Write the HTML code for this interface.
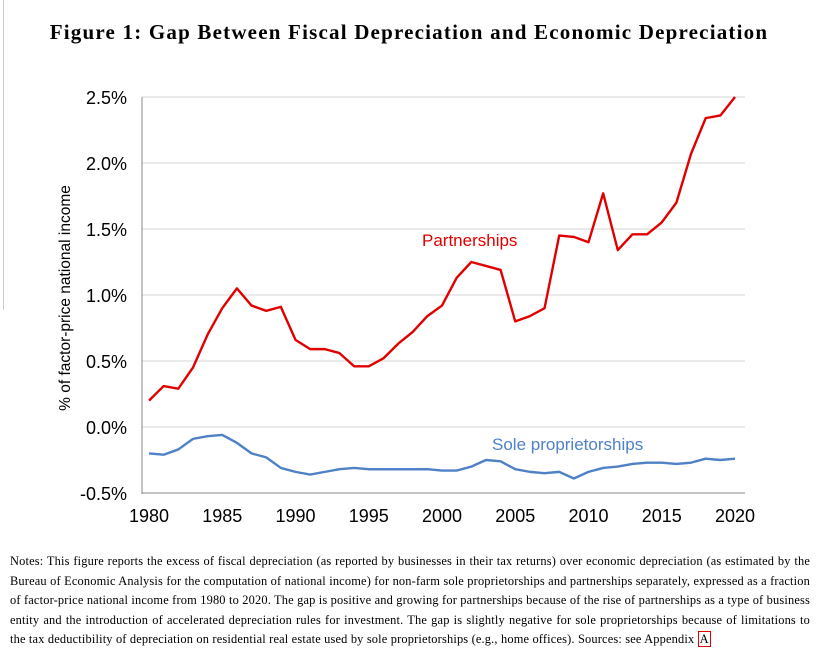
<!DOCTYPE html>
<html><head><meta charset="utf-8"><style>
body{margin:0;background:#fff;width:833px;height:655px;overflow:hidden;position:relative;font-family:"Liberation Sans",sans-serif}
#title{position:absolute;top:20px;left:0;width:818px;text-align:center;font-family:"Liberation Serif",serif;font-size:21px;font-weight:bold;letter-spacing:1.2px}
#notes{position:absolute;left:10px;top:552px;width:800px;font-family:"Liberation Serif",serif;font-size:12.4px;letter-spacing:0.17px;line-height:19.6px;text-align:justify}
</style></head><body>
<div id="title">Figure 1: Gap Between Fiscal Depreciation and Economic Depreciation</div>
<div style="position:absolute;left:3px;top:0;width:1px;height:310px;background:#ccc"></div>
<svg id="chart" width="833" height="540" style="position:absolute;left:0;top:0"></svg>
<div id="notes">Notes: This figure reports the excess of fiscal depreciation (as reported by businesses in their tax returns) over economic depreciation (as estimated by the Bureau of Economic Analysis for the computation of national income) for non-farm sole proprietorships and partnerships separately, expressed as a fraction of factor-price national income from 1980 to 2020. The gap is positive and growing for partnerships because of the rise of partnerships as a type of business entity and the introduction of accelerated depreciation rules for investment. The gap is slightly negative for sole proprietorships because of limitations to the tax deductibility of depreciation on residential real estate used by sole proprietorships (e.g., home offices). Sources: see Appendix <span style="border:1px solid #d00;color:#000;padding:0 1px">A</span></div>
<script>
const years=[1980,1981,1982,1983,1984,1985,1986,1987,1988,1989,1990,1991,1992,1993,1994,1995,1996,1997,1998,1999,2000,2001,2002,2003,2004,2005,2006,2007,2008,2009,2010,2011,2012,2013,2014,2015,2016,2017,2018,2019,2020];
const partnerships=[0.20,0.31,0.29,0.45,0.70,0.90,1.05,0.92,0.88,0.91,0.66,0.59,0.59,0.56,0.46,0.46,0.52,0.63,0.72,0.84,0.92,1.13,1.25,1.22,1.19,0.80,0.84,0.90,1.45,1.44,1.40,1.77,1.34,1.46,1.46,1.55,1.70,2.07,2.34,2.36,2.50];
const sole=[-0.20,-0.21,-0.17,-0.09,-0.07,-0.06,-0.12,-0.20,-0.23,-0.31,-0.34,-0.36,-0.34,-0.32,-0.31,-0.32,-0.32,-0.32,-0.32,-0.32,-0.33,-0.33,-0.30,-0.25,-0.26,-0.32,-0.34,-0.35,-0.34,-0.39,-0.34,-0.31,-0.30,-0.28,-0.27,-0.27,-0.28,-0.27,-0.24,-0.25,-0.24];
const yTicks=[-0.5,0,0.5,1.0,1.5,2.0,2.5];
const yTickLabels=["-0.5%","0.0%","0.5%","1.0%","1.5%","2.0%","2.5%"];
const xTicks=[1980,1985,1990,1995,2000,2005,2010,2015,2020];
const svg=document.getElementById('chart');const NS='http://www.w3.org/2000/svg';
const X=y=>149+(y-1980)*(735-149)/40;
const Y=v=>427-v*132;
function mk(t,a){const e=document.createElementNS(NS,t);for(const k in a)e.setAttribute(k,a[k]);svg.appendChild(e);return e;}
yTicks.forEach((v,i)=>{
 const g=mk('line',{x1:142,x2:745,y1:Y(v),y2:Y(v),stroke:v===-0.5?'#888':'#d4d4d4','stroke-width':1});
 
 
 const t=mk('text',{x:127,y:Y(v)+7,'text-anchor':'end','font-size':18,fill:'#000'});t.textContent=yTickLabels[i];
 
 
});
const ax=mk('line',{x1:142,x2:142,y1:97,y2:494,stroke:'#888','stroke-width':1});


xTicks.forEach(v=>{const t=mk('text',{x:X(v),y:522,'text-anchor':'middle','font-size':18,fill:'#000'});t.textContent=v;
 
 });
const yt=mk('text',{x:0,y:0,transform:'translate(70,298) rotate(-90)','text-anchor':'middle','font-size':15.5,fill:'#000'});yt.textContent='% of factor-price national income';


function line(data,color,name){const p=mk('polyline',{points:data.map((v,i)=>X(years[i])+','+Y(v)).join(' '),fill:'none',stroke:color,'stroke-width':2.4,'stroke-linejoin':'round'});
 
 }
line(partnerships,'#e00000','partnerships-line');
line(sole,'#4f81c7','sole-proprietorships-line');
const l1=mk('text',{x:422,y:246,'font-size':17,fill:'#e00000'});l1.textContent='Partnerships';


const l2=mk('text',{x:492,y:450,'font-size':17,fill:'#4f81c7'});l2.textContent='Sole proprietorships';


</script>
</body></html>
